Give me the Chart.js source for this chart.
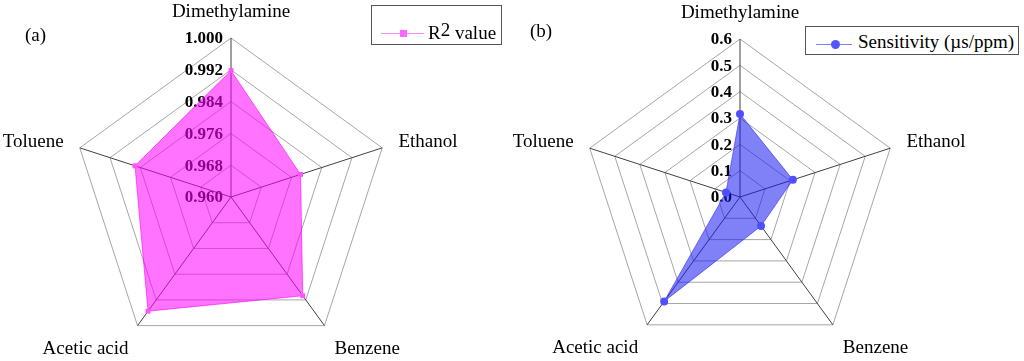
<!DOCTYPE html>
<html>
<head>
<meta charset="utf-8">
<script src="https://cdn.jsdelivr.net/npm/chart.js@4/dist/chart.umd.min.js"></script>
<style>
    html, body { margin: 0; padding: 0; background: #fff; }
    body { width: 1024px; height: 361px; position: relative; overflow: hidden; font-family: 'Liberation Serif', 'Times New Roman', serif; }
    canvas { position: absolute; top: 0; }
    .panel { position: absolute; font-size: 19px; line-height: 1; color: #000; }
    .legend { position: absolute; box-sizing: border-box; border: 1.5px solid #555; background: #fff; }
    .legend .line { position: absolute; height: 1px; }
    .legend .mark { position: absolute; }
    .legend .txt { position: absolute; font-size: 19px; white-space: nowrap; line-height: 1; }
    .legend sup { font-size: 19px; position: relative; top: -3px; vertical-align: top; line-height: 1; }
</style>
</head>
<body>
<canvas id="chart-a" width="512" height="361" style="left:0"></canvas>
<canvas id="chart-b" width="512" height="361" style="left:512px"></canvas>

<div class="panel" style="left:25px; top:25px;">(a)</div>
<div class="panel" style="left:530px; top:21px;">(b)</div>

<div class="legend" style="left:371px; top:5px; width:131px; height:40px;">
    <div class="line" style="left:9px; top:27px; width:43px; background:#ff8cff;"></div>
    <div class="mark" style="left:28px; top:24px; width:7px; height:7px; background:#ff66ff;"></div>
    <div class="txt" style="left:56px; top:17px;">R<sup>2</sup> value</div>
</div>
<div class="legend" style="left:805px; top:26px; width:214px; height:29px;">
    <div class="line" style="left:10px; top:17px; width:36px; background:#8080ff;"></div>
    <div class="mark" style="left:25px; top:13px; width:9px; height:9px; border-radius:50%; background:#5555ff;"></div>
    <div class="txt" style="left:52px; top:5px;">Sensitivity (µs/ppm)</div>
</div>

<script>
// Shared axes
const categories = ['Dimethylamine', 'Ethanol', 'Benzene', 'Acetic acid', 'Toluene'];

// (a) R^2 values
const r2Values = [0.9918, 0.9784, 0.9907, 0.9955, 0.9854];
const r2TickLabels = ['0.960', '0.968', '0.976', '0.984', '0.992', '1.000'];

// (b) Sensitivity (us/ppm)
const sensitivityValues = [0.315, 0.211, 0.136, 0.490, 0.056];
const sensTickLabels = ['0.0', '0.1', '0.2', '0.3', '0.4', '0.5', '0.6'];

const SERIF = "'Liberation Serif', 'Times New Roman', serif";

// Tick labels sit left of the vertical axis, under the dataset fill
const tickLabelsPlugin = {
    id: 'tickLabels',
    beforeDatasetsDraw(chart) {
        const scale = chart.scales.r;
        const labels = chart.config.options.tickLabels || [];
        const ctx = chart.ctx;
        ctx.save();
        ctx.font = 'bold 17px ' + SERIF;
        ctx.fillStyle = '#000';
        ctx.textAlign = 'right';
        ctx.textBaseline = 'middle';
        scale.ticks.forEach((tick, i) => {
            const off = scale.getDistanceFromCenterForValue(tick.value);
            ctx.fillText(labels[i] ?? tick.label, scale.xCenter - 8, scale.yCenter - off + 1);
        });
        ctx.restore();
    }
};

// Category names around the pentagon
const pointNamesPlugin = {
    id: 'pointNames',
    afterDraw(chart) {
        const scale = chart.scales.r;
        const ctx = chart.ctx;
        ctx.save();
        ctx.font = '19px ' + SERIF;
        ctx.fillStyle = '#000';
        ctx.textBaseline = 'middle';
        chart.data.labels.forEach((name, i) => {
            const v = scale.getPointPosition(i, scale.drawingArea);
            const p = scale.getPointPosition(i, scale.drawingArea + 17);
            if (Math.abs(v.x - scale.xCenter) < 1) {
                ctx.textAlign = 'center';
                ctx.fillText(name, v.x, v.y - 26);
            } else if (v.y > scale.yCenter) {
                const right = v.x > scale.xCenter;
                ctx.textAlign = right ? 'left' : 'right';
                ctx.fillText(name, v.x + (right ? 10 : -9), v.y + 23);
            } else {
                ctx.textAlign = p.x > scale.xCenter ? 'left' : 'right';
                ctx.fillText(name, p.x, p.y - 1);
            }
        });
        ctx.restore();
    }
};

function makeRadar(canvasId, values, opts) {
    return new Chart(document.getElementById(canvasId), {
        type: 'radar',
        data: {
            labels: categories,
            datasets: [{
                data: values,
                backgroundColor: opts.fill,
                borderColor: opts.border,
                borderWidth: 1,
                pointStyle: opts.pointStyle,
                pointRadius: opts.pointRadius,
                pointBackgroundColor: opts.point,
                pointBorderColor: opts.point,
                pointBorderWidth: 0
            }]
        },
        options: {
            responsive: false,
            animation: false,
            tickLabels: opts.tickLabels,
            layout: { padding: opts.padding },
            scales: {
                r: {
                    min: opts.min,
                    max: opts.max,
                    ticks: { stepSize: opts.step, display: false },
                    pointLabels: { display: false },
                    grid: { color: '#a6a6a6', lineWidth: 1 },
                    angleLines: { color: '#404040', lineWidth: 1 }
                }
            },
            plugins: {
                legend: { display: false },
                tooltip: { enabled: false }
            }
        },
        plugins: [tickLabelsPlugin, pointNamesPlugin]
    });
}

makeRadar('chart-a', r2Values, {
    min: 0.96, max: 1.0, step: 0.008,
    tickLabels: r2TickLabels,
    fill: 'rgba(255, 0, 255, 0.55)',
    border: 'rgba(255, 0, 255, 0.6)',
    point: '#ff55ff',
    pointStyle: 'rect',
    pointRadius: 3.5,
    padding: { left: 72, top: 38, right: 122, bottom: 5 }
});

makeRadar('chart-b', sensitivityValues, {
    min: 0, max: 0.6, step: 0.1,
    tickLabels: sensTickLabels,
    fill: 'rgba(25, 25, 240, 0.55)',
    border: 'rgba(60, 60, 255, 0.7)',
    point: '#4f4fff',
    pointStyle: 'circle',
    pointRadius: 4,
    padding: { left: 70, top: 39, right: 126, bottom: 6 }
});
</script>
</body>
</html>
